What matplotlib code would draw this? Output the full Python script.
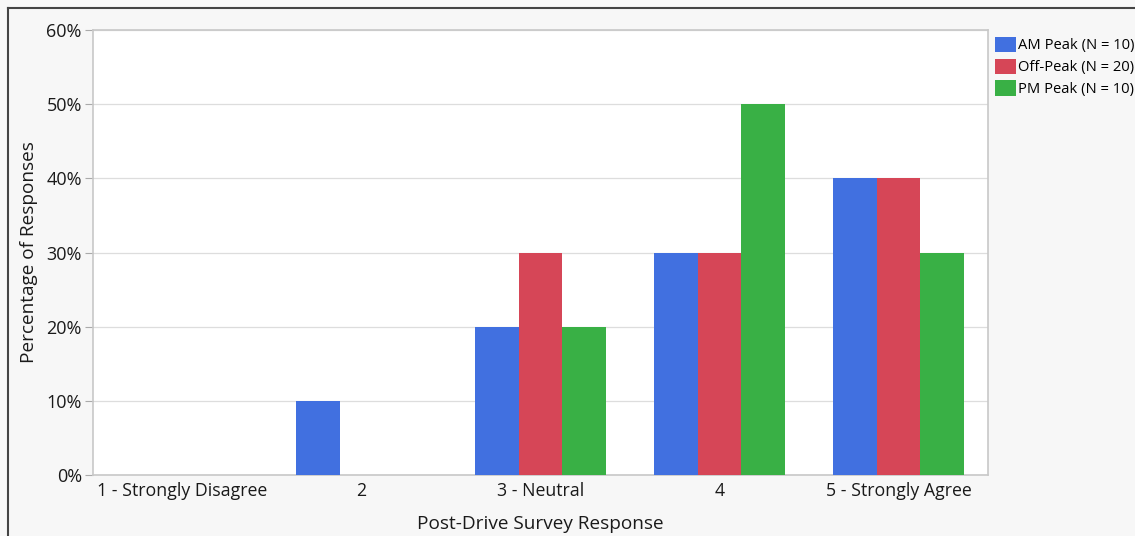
import numpy as np
from matplotlib import pyplot as plt
from matplotlib.ticker import PercentFormatter

# data
categories = ['1 - Strongly Disagree', '2', '3 - Neutral', '4', '5 - Strongly Agree']
series_names = ['AM Peak (N = 10)', 'Off-Peak (N = 20)', 'PM Peak (N = 10)']
am_peak = [0, 10, 20, 30, 40]
off_peak = [0, 0, 30, 30, 40]
pm_peak = [0, 0, 20, 50, 30]
colors = ['#4170E0', '#D64657', '#39B045']

plt.rcParams['font.family'] = ['Open Sans', 'DejaVu Sans']

fig = plt.figure(figsize=(11.35, 5.36), dpi=100)
fig.patch.set_facecolor('#f7f7f7')
ax = fig.add_axes([0.0819, 0.1138, 0.7886, 0.8302])
ax.set_facecolor('white')

# outer frame (top and left dark edge)
fig.add_artist(plt.Line2D([8 / 1135, 1], [1 - 8 / 536, 1 - 8 / 536],
                          transform=fig.transFigure, color='#444444', lw=1.5))
fig.add_artist(plt.Line2D([8 / 1135, 8 / 1135], [0, 1 - 8 / 536],
                          transform=fig.transFigure, color='#444444', lw=1.5))

x = np.arange(len(categories))
width = 0.245
for i, (vals, name) in enumerate(zip([am_peak, off_peak, pm_peak], series_names)):
    ax.bar(x + (i - 1) * width, vals, width, color=colors[i], label=name, zorder=3)

ax.set_xlim(-0.5, 4.5)
ax.set_ylim(0, 60)
ax.set_yticks(np.arange(0, 61, 10))
ax.yaxis.set_major_formatter(PercentFormatter(decimals=0))
ax.set_xticks(x)
ax.set_xticklabels(categories)
ax.grid(axis='y', color='#dddddd', lw=0.9, zorder=0)

for s in ax.spines.values():
    s.set_color('#c8c8c8')
    s.set_linewidth(1.2)
ax.tick_params(axis='y', length=6, color='#aaaaaa', labelsize=13, pad=2, labelcolor='#1a1a1a')
ax.tick_params(axis='x', length=0, labelsize=12.8, pad=5, labelcolor='#1a1a1a')

ax.set_xlabel('Post-Drive Survey Response', fontsize=13.7, color='#1a1a1a', labelpad=11)
ax.set_ylabel('Percentage of Responses', fontsize=13.7, color='#1a1a1a', labelpad=6)

ax.legend(loc='upper left', bbox_to_anchor=(1.0, 1.0), frameon=False, fontsize=10.6,
          handlelength=1.45, handleheight=1.25, handletextpad=0.15, labelspacing=0.35,
          borderaxespad=0.2, borderpad=0.25)

plt.savefig('out.png', dpi=100, facecolor=fig.get_facecolor())
plt.close()
